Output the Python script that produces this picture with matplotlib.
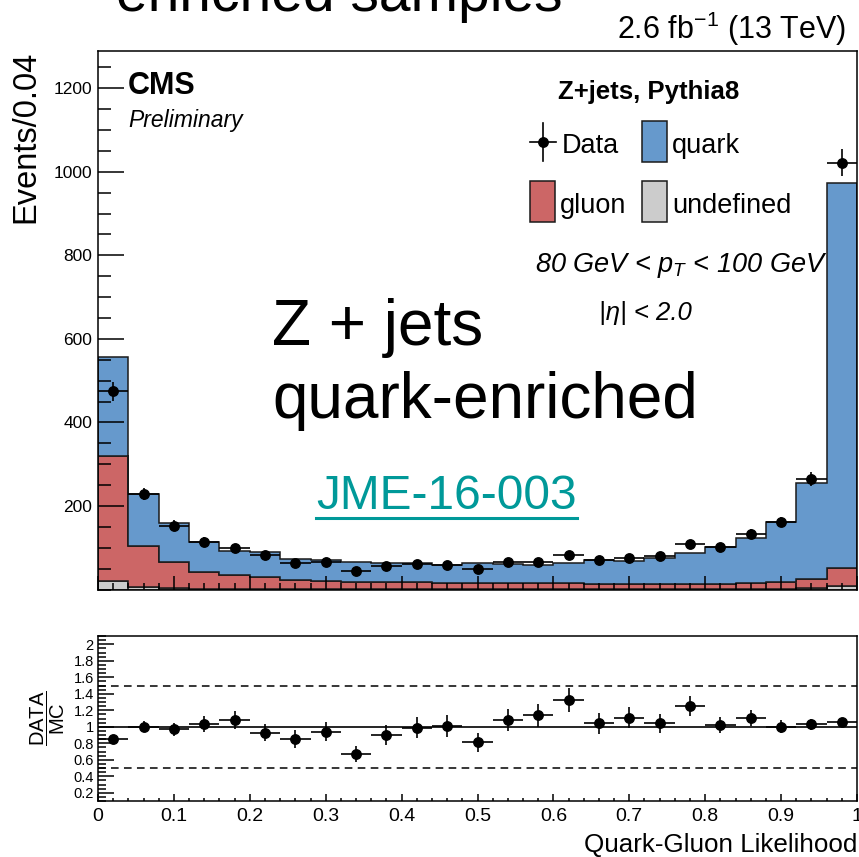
"""Quark-gluon likelihood in Z+jets events: stacked MC vs data, with ratio pad."""

import numpy as np
import matplotlib

matplotlib.use("Agg")
import matplotlib.pyplot as plt
from matplotlib.lines import Line2D
from matplotlib.patches import Rectangle
from matplotlib.ticker import MultipleLocator, FixedLocator, FuncFormatter

plt.rcParams["font.family"] = ["Liberation Sans", "DejaVu Sans"]
plt.rcParams["mathtext.fontset"] = "custom"
plt.rcParams["mathtext.rm"] = "Liberation Sans"
plt.rcParams["mathtext.it"] = "Liberation Sans:italic"
plt.rcParams["mathtext.bf"] = "Liberation Sans:bold"

# 25 bins of width 0.04 in QGL
bin_edges = np.linspace(0.0, 1.0, 26)

undefined = [20, 5, 3, 2, 2, 2, 1, 1, 1, 1, 1, 1, 1, 1, 1, 1, 1, 1, 1, 1, 1, 1, 2, 3, 9]
gluon = [300, 99, 64, 39, 32, 27, 22, 20, 18, 16, 16, 14, 14, 14, 14, 14, 12, 13, 13,
         12, 12, 15, 17, 23, 42]
quark = [236, 125, 91, 73, 58, 60, 50, 50, 48, 46, 46, 44, 48, 45, 44, 48, 58, 55, 62,
         74, 89, 107, 143, 230, 921]
data = [474, 229, 153, 114, 100, 83, 63, 65, 44, 56, 61, 58, 49, 65, 67, 83, 71, 76, 79,
        108, 102, 134, 162, 264, 1022]
ratio = [0.85, 1.00, 0.97, 1.03, 1.08, 0.93, 0.85, 0.94, 0.67, 0.90, 0.99, 1.01, 0.81,
         1.08, 1.14, 1.32, 1.04, 1.11, 1.04, 1.25, 1.02, 1.11, 1.00, 1.03, 1.06]

C_QUARK = "#6699cc"
C_GLUON = "#cc6666"
C_UNDEF = "#cccccc"
TEAL = "#009999"

W, H = 859, 857


def fx(px):
    return px / W


def fy(py):
    return 1 - py / H


fig = plt.figure(figsize=(W / 100, H / 100), dpi=100)
ax = fig.add_axes([fx(98), fy(589.5), fx(857 - 98), (589.5 - 51) / H])
rax = fig.add_axes([fx(98), fy(801), fx(857 - 98), (801 - 636) / H])

centers = 0.5 * (bin_edges[:-1] + bin_edges[1:])
half = 0.5 * np.diff(bin_edges)

# stacked MC: undefined at the bottom, then gluon, then quark
lvl0 = np.zeros(len(undefined))
lvl1 = lvl0 + np.array(undefined)
lvl2 = lvl1 + np.array(gluon)
lvl3 = lvl2 + np.array(quark)
for top, base, col in [(lvl1, lvl0, C_UNDEF), (lvl2, lvl1, C_GLUON), (lvl3, lvl2, C_QUARK)]:
    ax.stairs(top, bin_edges, baseline=base, fill=True, facecolor=col,
              edgecolor="#1a1a1a", linewidth=1.1)

data = np.array(data, dtype=float)
ax.errorbar(centers, data, xerr=half, yerr=np.sqrt(data), fmt="o", color="black",
            ms=6.8, elinewidth=1.2, capsize=0)

ax.set_xlim(0, 1)
ax.set_ylim(0, 1289)
ax.yaxis.set_major_locator(FixedLocator([200, 400, 600, 800, 1000, 1200]))
ax.yaxis.set_minor_locator(MultipleLocator(50))
ax.xaxis.set_major_locator(MultipleLocator(0.1))
ax.xaxis.set_minor_locator(MultipleLocator(0.02))
ax.tick_params(axis="both", which="both", direction="in", top=False, right=False)
ax.tick_params(axis="y", which="major", length=18.5, width=1.1, labelsize=12.5, pad=4)
ax.tick_params(axis="y", which="minor", length=9.5, width=1.1)
ax.tick_params(axis="x", which="major", length=10, width=1.1, labelbottom=False)
ax.tick_params(axis="x", which="minor", length=5, width=1.1)
ax.set_ylabel("Events/0.04", fontsize=23.5, loc="top", labelpad=9)
for s in ax.spines.values():
    s.set_linewidth(1.1)

# ratio pad
ratio = np.array(ratio)
rax.axhline(1.0, color="black", lw=1.2)
for lvl in (0.5, 1.5):
    rax.axhline(lvl, color="black", lw=1.1, ls=(0, (5, 3.5)))
rax.errorbar(centers, ratio, xerr=half, yerr=ratio / np.sqrt(data), fmt="o",
             color="black", ms=6.8, elinewidth=1.2, capsize=0)
rax.set_xlim(0, 1)
rax.set_ylim(0.1, 2.1)
rax.yaxis.set_major_locator(FixedLocator(np.round(np.arange(0.2, 2.01, 0.2), 1)))
rax.yaxis.set_major_formatter(FuncFormatter(lambda v, _: f"{v:g}"))
rax.yaxis.set_minor_locator(MultipleLocator(0.05))
rax.xaxis.set_major_locator(MultipleLocator(0.1))
rax.xaxis.set_major_formatter(FuncFormatter(lambda v, _: f"{v:g}"))
rax.xaxis.set_minor_locator(MultipleLocator(0.02))
rax.tick_params(axis="both", which="both", direction="in", top=False, right=False)
rax.tick_params(axis="y", which="major", length=11.5, width=1.1, labelsize=10.5, pad=3)
rax.tick_params(axis="y", which="minor", length=5.8, width=1.1)
rax.tick_params(axis="x", which="major", length=5, width=1.1, labelsize=14, pad=5)
rax.tick_params(axis="x", which="minor", length=2.5, width=1.1)
for s in rax.spines.values():
    s.set_linewidth(1.1)
rax.set_ylabel(r"$\dfrac{\mathrm{DATA}}{\mathrm{MC}}$", fontsize=14.5, labelpad=5)
fig.text(fx(857), fy(852), "Quark-Gluon Likelihood", fontsize=18.7, ha="right",
         va="baseline")

# header texts
fig.text(fx(846), fy(39), r"2.6 fb$^{-1}$ (13 TeV)", fontsize=22, ha="right",
         va="baseline")
fig.text(fx(128), fy(94), "CMS", fontsize=22, fontweight="bold", va="baseline")
fig.text(fx(128), fy(127), "Preliminary", fontsize=16.5, style="italic", va="baseline")

# legend block
fig.text(fx(649), fy(99), "Z+jets, Pythia8", fontsize=18.5, fontweight="bold",
         ha="center", va="baseline")
fig.add_artist(Line2D([fx(530), fx(556)], [fy(142), fy(142)], color="black", lw=1.2,
                      transform=fig.transFigure))
fig.add_artist(Line2D([fx(543), fx(543)], [fy(123), fy(161)], color="black", lw=1.2,
                      transform=fig.transFigure))
fig.add_artist(Line2D([fx(543)], [fy(142)], marker="o", color="black", ms=6.8,
                      transform=fig.transFigure))
for (x0, y0, col) in [(642, 162, C_QUARK), (530, 222, C_GLUON), (642, 222, C_UNDEF)]:
    fig.add_artist(Rectangle((fx(x0), fy(y0)), 25 / W, 41 / H, facecolor=col,
                             edgecolor="#1a1a1a", lw=1.1, transform=fig.transFigure))
for (x0, y0, txt) in [(562, 153, "Data"), (672, 153, "quark"), (560, 213, "gluon"),
                      (672, 213, "undefined")]:
    fig.text(fx(x0), fy(y0), txt, fontsize=19.5, va="baseline")

fig.text(fx(535), fy(272), r"80 GeV < $p_{T}$ < 100 GeV", fontsize=19.5,
         style="italic", va="baseline")
fig.text(fx(645), fy(320), "|η| < 2.0", fontsize=18.5, style="italic", ha="center",
         va="baseline")

# slide annotations
fig.text(fx(339), fy(11), "enriched samples", fontsize=41, ha="center", va="baseline")
fig.text(fx(272), fy(345), "Z + jets", fontsize=46, va="baseline")
fig.text(fx(272), fy(418), "quark-enriched", fontsize=46, va="baseline")
fig.text(fx(316), fy(509), "JME-16-003", fontsize=34.5, color=TEAL, va="baseline")
fig.add_artist(Line2D([fx(316), fx(577)], [fy(518), fy(518)], color=TEAL, lw=2.2,
                      transform=fig.transFigure))

fig.savefig("out.png", dpi=100)
